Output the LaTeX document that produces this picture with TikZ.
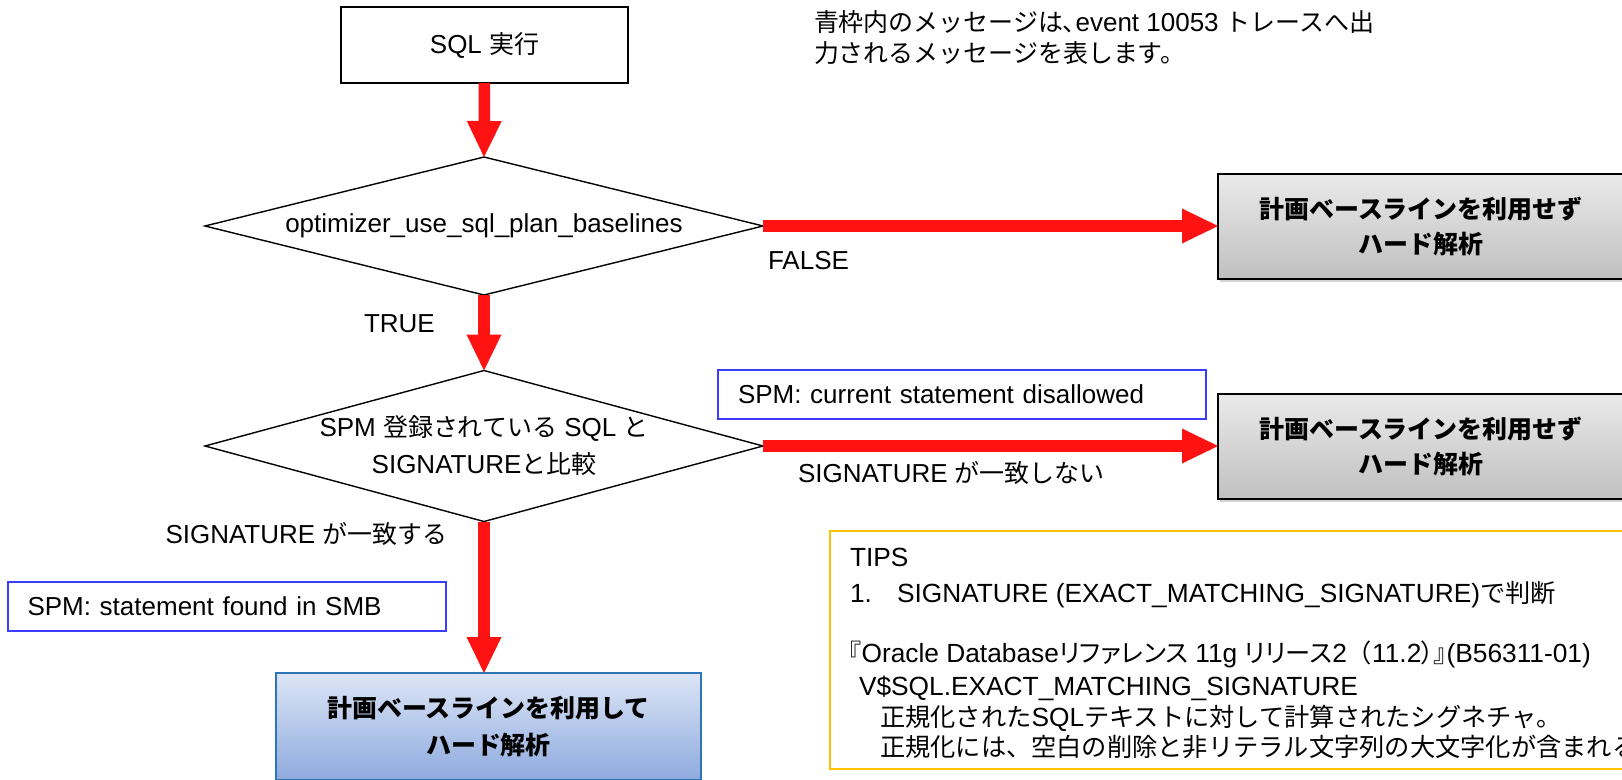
\documentclass[tikz,border=0pt]{standalone}
\usepackage{fontspec}
\setmainfont{Liberation Sans}
\newfontfamily\jpfont[Scale=0.96]{Noto Sans CJK JP}
\newfontfamily\jppfont[Scale=0.96,RawFeature=+palt]{Noto Sans CJK JP}
\newcommand\jp[1]{{\jpfont #1}}
\newcommand\jpp[1]{{\jppfont #1}}
\usetikzlibrary{arrows.meta,shapes.geometric,shadows}

\definecolor{arrowred}{RGB}{255,18,18}
\definecolor{msgblue}{RGB}{60,60,255}
\definecolor{tipsgold}{RGB}{255,192,0}
\definecolor{skiptop}{RGB}{234,234,234}
\definecolor{skipbot}{RGB}{192,192,192}
\definecolor{usetop}{RGB}{220,229,246}
\definecolor{usebot}{RGB}{142,170,222}
\definecolor{useedge}{RGB}{46,117,182}

\begin{document}
\begin{tikzpicture}[x=1pt,y=-1pt,
  font=\fontsize{26}{31}\selectfont,
  every node/.style={inner sep=0pt,outer sep=0pt},
  procbox/.style={draw=black,line width=2pt,fill=white,
    minimum width=287pt,minimum height=76pt},
  decision/.style={diamond,aspect=4,draw=black,line width=1.4pt,
    minimum width=558pt,minimum height=138pt},
  skipbox/.style={draw=black,line width=2pt,top color=skiptop,bottom color=skipbot,
    minimum width=406pt,minimum height=105pt,align=center,
    font=\fontsize{26}{35}\selectfont\bfseries,
    drop shadow={shadow xshift=1.5pt,shadow yshift=-3pt,opacity=0.35}},
  usebox/.style={draw=useedge,line width=2pt,top color=usetop,bottom color=usebot,
    minimum width=425pt,minimum height=107pt,align=center,
    font=\fontsize{26}{37}\selectfont\bfseries},
  msgbox/.style={draw=msgblue,line width=1.4pt,fill=white,
    minimum height=49pt,inner xsep=20pt,align=left},
  tipsbox/.style={draw=tipsgold,line width=2pt,
    minimum width=830pt,minimum height=238pt},
  flow/.style={draw=arrowred,line width=11.5pt,
    -{Triangle[length=36pt,width=35pt,line width=0pt]}},
  txt/.style={anchor=base west},
  tipstxt/.style={anchor=base west,font=\fontsize{26.3}{31}\selectfont}
]
\useasboundingbox (0,0) rectangle (1622,779);
\clip (0,0) rectangle (1622,779);

% process start and decisions
\node[procbox] (sql) at (484.5,45) {SQL \jp{実行}};

\node[decision] (d1) at (484,226) {};
\node (d1text) at (d1.center) {optimizer\_use\_sql\_plan\_baselines};

\node[decision,minimum height=151pt] (d2) at (484,446) {};
\node[align=center,font=\fontsize{26}{37}\selectfont] (d2text) at (d2.center)
  {SPM \jp{登録されている} SQL \jp{と}\\SIGNATURE\jp{と比較}};

% outcomes
\node[skipbox] (skip1) at (1421,226) {\jp{計画ベースラインを利用せず}\\\jp{ハード解析}};
\node[skipbox] (skip2) at (1421,446) {\jp{計画ベースラインを利用せず}\\\jp{ハード解析}};
\node[usebox] (use) at (488.5,726.5) {\jp{計画ベースラインを利用して}\\\jp{ハード解析}};

% event 10053 trace messages
\node[msgbox,text width=448pt,anchor=west] (msg1) at (718,394.5) {SPM: current statement disallowed};
\node[msgbox,text width=399pt,anchor=west,inner xsep=19.5pt] (msg2) at (8,606.5) {SPM: statement found in SMB};

% flow arrows
\draw[flow] (sql.south) -- (d1.north);
\draw[flow] (d1.south) -- (d2.north);
\draw[flow] (d2.south) -- (d2.south |- use.north);
\draw[flow] (d1.east) -- (skip1.west);
\draw[flow] (d2.east) -- (skip2.west);

% branch labels
\node[txt] (lfalse) at (768,269) {FALSE};
\node[txt] (ltrue) at (364,332) {TRUE};
\node[txt] (lnomatch) at (798,482) {SIGNATURE \jp{が一致しない}};
\node[txt] (lmatch) at (165.5,543) {SIGNATURE \jp{が一致する}};

% note at top right
\node[txt] (note1) at (814,31) {\jp{青枠内のメッセージ}\jpp{は、}event 10053 \jp{トレースへ出}};
\node[txt] (note2) at (814,62) {\jp{力されるメッセージを表します。}};

% tips panel
\node[tipsbox,anchor=north west] (tips) at (830,531) {};
\node[tipstxt] (tips1) at (850,566) {TIPS};
\node[tipstxt] (tips2) at (850,602) {\makebox[47pt][l]{1.}SIGNATURE (EXACT\_MATCHING\_SIGNATURE)\jp{で判断}};
\node[tipstxt] (tips3) at (849,662) {\jpp{『}Oracle Database\jpp{リファレンス} 11g \jpp{リリース}2\jp{（}11.2\jpp{）』}(B56311-01)};
\node[tipstxt] (tips4) at (859,695) {V\$SQL.EXACT\_MATCHING\_SIGNATURE};
\node[tipstxt] (tips5) at (880,726) {\jp{正規化された}SQL\jp{テキストに対して計算されたシグネチャ。}};
\node[tipstxt] (tips6) at (880,756) {\jp{正規化には、空白の削除と非リテラル文字列の大文字化が含まれる。}};
\end{tikzpicture}
\end{document}
